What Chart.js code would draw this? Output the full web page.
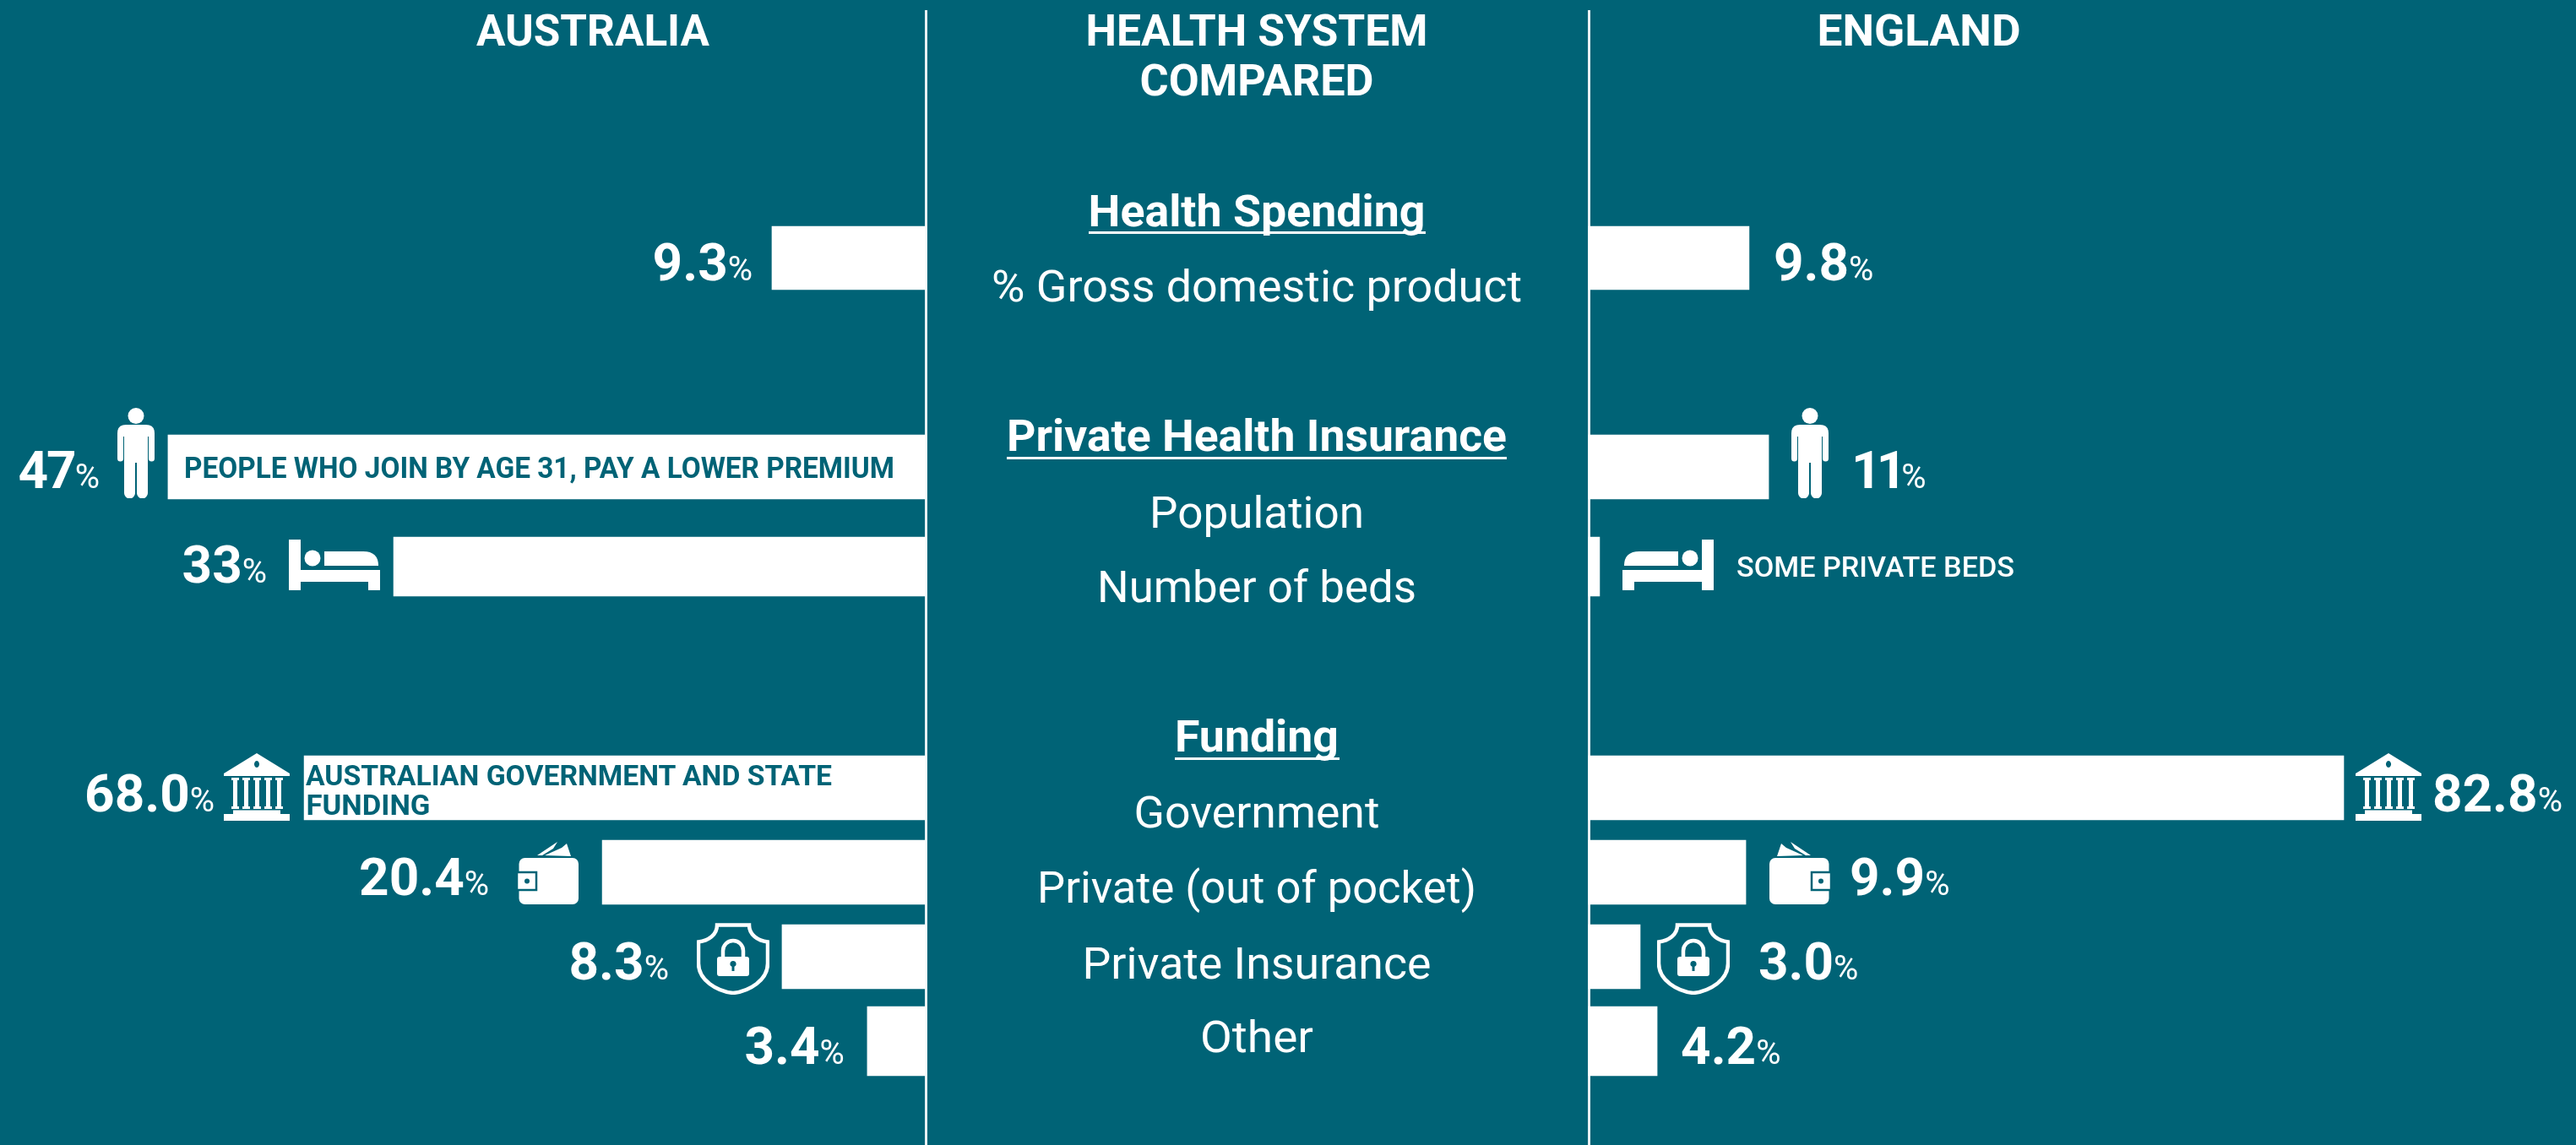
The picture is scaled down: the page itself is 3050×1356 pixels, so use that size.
<!DOCTYPE HTML>
<html>
<head>
    <title>Health system compared</title>
    <meta charset="utf-8" />
    <script src="https://cdn.jsdelivr.net/npm/chart.js@4"></script>
    <style>
        html, body { margin: 0; padding: 0; background: #006376; width: 3050px; height: 1356px; overflow: hidden; }
        canvas, svg.layer { position: absolute; left: 0; }
        svg.layer { top: 0; z-index: 2; pointer-events: none; }
        .rule { position: absolute; top: 12px; bottom: 0; width: 3px; background: #e8f0f2; }
    </style>
</head>

<body>
    <div class="rule" style="left:1095px"></div>
    <div class="rule" style="left:1880px"></div>

    <svg width="0" height="0" style="position:absolute">
        <symbol id="person" viewBox="0 0 44 107">
            <circle cx="22" cy="9.5" r="9.5" fill="#fff" />
            <path fill="#fff" d="M10 20H34Q44 20 44 30V60a3.5 3.5 0 0 1-7 0V34H36V101a6.5 6.5 0 0 1-13 0V65H21V101a6.5 6.5 0 0 1-13 0V34H7V60a3.5 3.5 0 0 1-7 0V30Q0 20 10 20Z" />
        </symbol>
        <symbol id="bed" viewBox="0 0 108 60">
            <path fill="#fff" d="M0 0H14V36H108V60H94V50H14V60H0Z" />
            <circle cx="28" cy="22" r="9.5" fill="#fff" />
            <path fill="#fff" d="M42 14H88Q106 14 106 31H42Z" />
        </symbol>
        <symbol id="bank" viewBox="0 0 78 80">
            <path fill="#fff" fill-rule="evenodd" d="M39 0L78 24V27H0V24ZM39 9a3 4 0 1 0 .01 0Z" />
            <path fill="#fff" d="M9 29h9v3h-2v31h2v3h-9v-3h2V32H9ZM22 29h9v3h-2v31h2v3h-9v-3h2V32h-2ZM35 29h9v3h-2v31h2v3h-9v-3h2V32h-2ZM48 29h9v3h-2v31h2v3h-9v-3h2V32h-2ZM61 29h9v3h-2v31h2v3h-9v-3h2V32h-2Z" />
            <path fill="#fff" d="M11 67.500H67V72H78V80H0V72H11Z" />
        </symbol>
        <symbol id="wallet" viewBox="0 0 74 75">
            <rect x="3.500" y="20" width="70.500" height="55" rx="7" fill="#fff" />
            <rect x="1" y="37" width="23" height="21" fill="#fff" stroke="#006376" stroke-width="2.500" />
            <circle cx="13" cy="47.500" r="3" fill="#006376" />
            <path fill="#fff" d="M25 17L49 1L44 9L31 17ZM34 17L54 8L60 3L65 18Z" />
        </symbol>
        <symbol id="shield" viewBox="0 0 86 85">
            <path fill="none" stroke="#fff" stroke-width="4.500" d="M24 2.500H62C62 14 72 21 84 22.500V48C84 68 62 81 43 83C24 81 2 68 2 48V22.500C14 21 24 14 24 2.500Z" />
            <path fill="none" stroke="#fff" stroke-width="4.500" d="M31 40V33a12 12 0 0 1 24 0V40" />
            <path fill="#fff" fill-rule="evenodd" d="M27 40H59a3 3 0 0 1 3 3V60a3 3 0 0 1-3 3H27a3 3 0 0 1-3-3V43a3 3 0 0 1 3-3ZM43 45a3.500 3.500 0 0 0-1.500 6.700V57h3V51.700A3.500 3.500 0 0 0 43 45Z" />
        </symbol>
    </svg>

    <svg class="layer" id="overlay" width="3050" height="1356"></svg>

    <script>
        const categories = ['% Gross domestic product', 'Population', 'Number of beds', 'Government', 'Private (out of pocket)', 'Private Insurance', 'Other'];
        const aus_labels = ['9.3', '47', '33', '68.0', '20.4', '8.3', '3.4'];
        const eng_labels = ['9.8', '11', '', '82.8', '9.9', '3.0', '4.2'];
        // the picture does not draw its bars to the printed numbers (68.0 is shorter than 47)
        const aus_bars = [9.43, 46.48, 32.64, 38.13, 19.84, 8.81, 3.58];
        const eng_bars = [9.84, 11.04, 0.67, 46.32, 9.64, 3.16, 4.2];

        // layout only
        const teal = '#006376';
        const px_per_unit = 19.3;
        const aus_zero = 1096;
        const eng_zero = 1881;
        const page_width = 3050;
        const thickness = [75, 76, 70, 76, 76, 76, 82];
        const aus_gap = [23, 81, 150, 106, 134, 134, 27];
        const eng_gap = [29, 98, 0, 105, 123, 140, 28];
        const baseline_shift = [26, 25, 19, 28, 27, 27, 27];
        const tight = { '47': '-2px', '11': '-6px' };
        const sections = [
            { top: 255, height: 101, rows: [0] },
            { top: 494, height: 236, rows: [1, 2] },
            { top: 883, height: 400, rows: [3, 4, 5, 6] }
        ];
        // text, x, baseline, size, weight, fitted width, colour
        const texts = [
            ['AUSTRALIA', 702, 54, 52, 700, 276],
            ['HEALTH SYSTEM', 1488, 54, 52, 700, 405],
            ['COMPARED', 1488, 113, 52, 700, 277],
            ['ENGLAND', 2272, 54, 52, 700, 241],
            ['Health Spending', 1488, 268, 51, 700, 399],
            [categories[0], 1488, 357, 51, 400, 628],
            ['Private Health Insurance', 1488, 534, 51, 700, 592],
            [categories[1], 1488, 625, 51, 400, 254],
            [categories[2], 1488, 713, 51, 400, 378],
            ['Funding', 1488, 890, 51, 700, 194],
            [categories[3], 1488, 980, 51, 400, 291],
            [categories[4], 1488, 1069, 51, 400, 520],
            [categories[5], 1488, 1159, 51, 400, 413],
            [categories[6], 1488, 1246, 51, 400, 134],
            ['PEOPLE WHO JOIN BY AGE 31, PAY A LOWER PREMIUM', 638.5, 566, 35, 700, 841, teal],
            ['AUSTRALIAN GOVERNMENT AND STATE', 673.5, 930, 34, 700, 623, teal],
            ['FUNDING', 436, 965, 34, 700, 147, teal],
            ['SOME PRIVATE BEDS', 2220.5, 683, 34, 500, 329]
        ];
        // x1, x2, y of the section title underlines
        const underlines = [[1289, 1688, 274], [1192, 1784, 541], [1391, 1586, 897]];
        // name, x, y, w, h, mirrored
        const icons = [
            ['person', 139, 483, 44, 107], ['person', 2121, 483, 44, 107],
            ['bed', 342, 639, 108, 60], ['bed', 1921, 639, 108, 60, true],
            ['bank', 265, 892, 78, 80], ['bank', 2789, 892, 78, 80],
            ['wallet', 611, 996, 74, 75], ['wallet', 2095, 996, 74, 75, true],
            ['shield', 825, 1093, 86, 85], ['shield', 1962, 1093, 86, 85]
        ];

        const ns = 'http://www.w3.org/2000/svg';
        const overlay = document.getElementById('overlay');

        function add_text(t) {
            let el = document.createElementNS(ns, 'text');
            el.textContent = t[0];
            el.setAttribute('x', t[1]);
            el.setAttribute('y', t[2]);
            el.setAttribute('font-size', t[3]);
            el.setAttribute('font-weight', t[4]);
            el.setAttribute('font-family', 'Roboto');
            el.setAttribute('text-anchor', 'middle');
            el.setAttribute('textLength', t[5]);
            el.setAttribute('lengthAdjust', 'spacingAndGlyphs');
            el.setAttribute('fill', t[6] || '#fff');
            overlay.appendChild(el);
        }

        function add_icon(ic) {
            let el = document.createElementNS(ns, 'use');
            el.setAttribute('href', '#' + ic[0]);
            el.setAttribute('width', ic[3]);
            el.setAttribute('height', ic[4]);
            if (ic[5]) {
                el.setAttribute('transform', `translate(${ic[1] + ic[3]},${ic[2]}) scale(-1,1)`);
            } else {
                el.setAttribute('x', ic[1]);
                el.setAttribute('y', ic[2]);
            }
            overlay.appendChild(el);
        }

        texts.forEach(add_text);
        icons.forEach(add_icon);
        underlines.forEach(u => {
            let el = document.createElementNS(ns, 'rect');
            el.setAttribute('x', u[0]);
            el.setAttribute('y', u[2]);
            el.setAttribute('width', u[1] - u[0]);
            el.setAttribute('height', 3);
            el.setAttribute('fill', '#fff');
            overlay.appendChild(el);
        });

        function draw_value(ctx, x, y, text, left_side) {
            if (!text) return;
            ctx.fillStyle = '#fff';
            ctx.textBaseline = 'alphabetic';
            ctx.textAlign = 'left';
            ctx.letterSpacing = tight[text] || '0px';
            ctx.font = '700 62px Roboto';
            const num_w = ctx.measureText(text).width;
            ctx.letterSpacing = '0px';
            ctx.font = '400 40px Roboto';
            const pct_w = ctx.measureText('%').width;
            const start = left_side ? x - num_w - pct_w : x;
            ctx.fillText('%', start + num_w, y);
            ctx.letterSpacing = tight[text] || '0px';
            ctx.font = '700 62px Roboto';
            ctx.fillText(text, start, y);
            ctx.letterSpacing = '0px';
        }

        function value_labels(rows) {
            return {
                id: 'value_labels',
                afterDatasetsDraw(chart) {
                    const { ctx, scales } = chart;
                    rows.forEach((r, j) => {
                        const y = scales.y.getPixelForValue(j) + baseline_shift[r];
                        draw_value(ctx, scales.x_aus.getPixelForValue(aus_bars[r]) - aus_gap[r], y, aus_labels[r], true);
                        draw_value(ctx, scales.x_eng.getPixelForValue(eng_bars[r]) + eng_gap[r], y, eng_labels[r], false);
                    });
                }
            };
        }

        function one_row(values, axis, r, rows) {
            return {
                data: rows.map(k => k === r ? values[k] : null),
                xAxisID: axis,
                backgroundColor: '#fff',
                borderWidth: 0,
                barThickness: thickness[r],
                grouped: false
            };
        }

        function make_section(sec) {
            let canvas = document.createElement('canvas');
            canvas.width = page_width;
            canvas.height = sec.height;
            canvas.style.top = sec.top + 'px';
            canvas.style.width = page_width + 'px';
            canvas.style.height = sec.height + 'px';
            document.body.appendChild(canvas);

            let datasets = [];
            sec.rows.forEach(r => {
                datasets.push(one_row(aus_bars, 'x_aus', r, sec.rows));
                datasets.push(one_row(eng_bars, 'x_eng', r, sec.rows));
            });

            new Chart(canvas, {
                type: 'bar',
                data: { labels: sec.rows.map(r => categories[r]), datasets: datasets },
                plugins: [value_labels(sec.rows)],
                options: {
                    indexAxis: 'y',
                    responsive: false,
                    animation: false,
                    devicePixelRatio: 1,
                    layout: { padding: 0 },
                    plugins: { legend: { display: false }, tooltip: { enabled: false } },
                    scales: {
                        y: { type: 'category', display: false },
                        x_aus: {
                            type: 'linear', axis: 'x', display: false, reverse: true,
                            min: -(page_width - aus_zero) / px_per_unit,
                            max: aus_zero / px_per_unit
                        },
                        x_eng: {
                            type: 'linear', axis: 'x', display: false,
                            min: -eng_zero / px_per_unit,
                            max: (page_width - eng_zero) / px_per_unit
                        }
                    }
                }
            });
        }

        document.fonts.load('700 62px Roboto').then(() => document.fonts.load('400 40px Roboto')).then(() => {
            sections.forEach(make_section);
        });
    </script>
</body>
</html>
